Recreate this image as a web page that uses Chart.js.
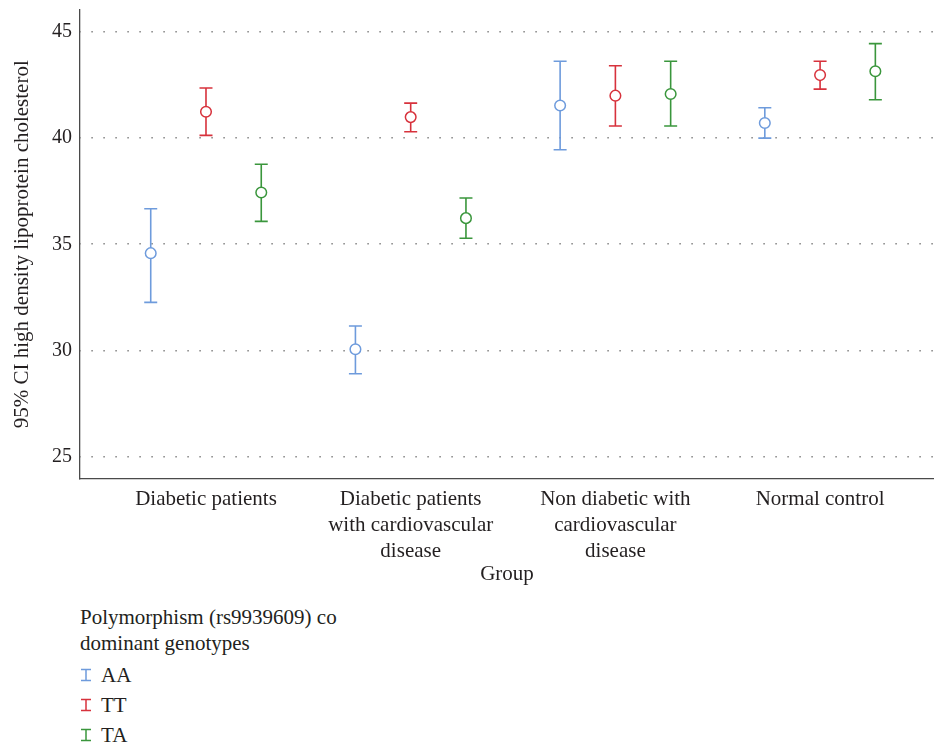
<!DOCTYPE html>
<html>
<head>
<meta charset="utf-8">
<script src="https://cdn.jsdelivr.net/npm/chart.js@4/dist/chart.umd.min.js"></script>
<style>
  html, body { margin: 0; padding: 0; background: #fff; overflow: hidden; }
  #wrap { position: relative; width: 934px; height: 743px; overflow: hidden; }
  #plot { position: absolute; left: 0; top: 0; width: 934px; height: 600px; }
  #legend { position: absolute; left: 80px; top: 604px; font-family: "Liberation Serif", serif; font-size: 21px; color: #231f20; }
  #legend .ttl { line-height: 26px; }
  #legend .items { margin-top: 4px; }
  #legend .item { height: 30px; line-height: 30px; display: flex; align-items: center; }
  #legend svg { margin-right: 9px; }
</style>
</head>
<body>
<div id="wrap">
  <div id="plot"><canvas id="c"></canvas></div>
  <div id="legend"></div>
</div>
<script>
// Groups along the x axis (multi-line labels)
const groups = [
  ["Diabetic patients"],
  ["Diabetic patients", "with cardiovascular", "disease"],
  ["Non diabetic with", "cardiovascular", "disease"],
  ["Normal control"]
];
const yTicks = [25, 30, 35, 40, 45];

// Genotypes
const genotypes = ["AA", "TT", "TA"];
const genotypeColors = ["#6e9bdc", "#d7323c", "#3a963c"];

// Mean HDL cholesterol and 95% CI per group
const meanAA  = [34.58, 30.05, 41.54, 40.71];
const lowAA   = [32.26, 28.90, 39.45, 40.00];
const highAA  = [36.67, 31.15, 43.62, 41.43];

const meanTT  = [41.24, 40.99, 42.00, 42.97];
const lowTT   = [40.13, 40.30, 40.57, 42.31];
const highTT  = [42.36, 41.65, 43.41, 43.62];

const meanTA  = [37.44, 36.23, 42.08, 43.15];
const lowTA   = [36.08, 35.28, 40.57, 41.81];
const highTA  = [38.77, 37.18, 43.62, 44.45];

const means = [meanAA, meanTT, meanTA];
const lows  = [lowAA, lowTT, lowTA];
const highs = [highAA, highTT, highTA];

// horizontal dodge of each genotype within a group (in group units)
const dodge = [-0.27, 0, 0.27];

const FONT = "'Liberation Serif', serif";
const TEXT = "#231f20";

const datasets = genotypes.map((g, s) => ({
  label: g,
  data: means[s].map((m, i) => ({ x: i + 1 + dodge[s], y: m, lo: lows[s][i], hi: highs[s][i] })),
  borderColor: genotypeColors[s],
  backgroundColor: "#ffffff",
  pointRadius: 5.3,
  pointHoverRadius: 5.3,
  pointBorderWidth: 1.5,
  showLine: false
}));

// draws the CI whiskers with caps beneath the mean markers
const errorBars = {
  id: "errorBars",
  beforeDatasetsDraw(chart) {
    const { ctx, scales: { x, y } } = chart;
    ctx.save();
    ctx.lineWidth = 1.6;
    chart.data.datasets.forEach((ds) => {
      ctx.strokeStyle = ds.borderColor;
      ds.data.forEach((p) => {
        const px = x.getPixelForValue(p.x);
        const pl = y.getPixelForValue(p.lo);
        const ph = y.getPixelForValue(p.hi);
        const cap = 6.5;
        ctx.beginPath();
        ctx.moveTo(px, pl); ctx.lineTo(px, ph);
        ctx.moveTo(px - cap, pl); ctx.lineTo(px + cap, pl);
        ctx.moveTo(px - cap, ph); ctx.lineTo(px + cap, ph);
        ctx.stroke();
      });
    });
    ctx.restore();
  }
};

new Chart(document.getElementById("c"), {
  type: "scatter",
  data: { datasets },
  plugins: [errorBars],
  options: {
    responsive: true,
    maintainAspectRatio: false,
    animation: false,
    layout: { autoPadding: false, padding: { top: 9.5, right: 0, left: 0, bottom: 0 } },
    plugins: { legend: { display: false }, tooltip: { enabled: false } },
    scales: {
      x: {
        type: "linear",
        min: 0.3845,
        max: 4.5565,
        afterBuildTicks: (s) => { s.ticks = groups.map((_, i) => ({ value: i + 1 })); },
        afterFit: (s) => { s.height = 121; s.paddingLeft = 0; s.paddingRight = 0; },
        ticks: {
          autoSkip: false,
          maxRotation: 0,
          padding: 7,
          color: TEXT,
          font: { family: FONT, size: 21, lineHeight: 1.24 },
          callback: (v) => groups[Math.round(v) - 1]
        },
        grid: { display: false, drawTicks: false },
        border: { display: true, color: "#4a4a4a", width: 1.3 },
        title: {
          display: true,
          text: "Group",
          color: TEXT,
          font: { family: FONT, size: 21 },
          padding: { top: 0, bottom: 13.4 }
        }
      },
      y: {
        min: 23.94,
        max: 46.06,
        afterBuildTicks: (s) => { s.ticks = yTicks.map((v) => ({ value: v })); },
        afterFit: (s) => { s.width = 80; s.paddingTop = 0; s.paddingBottom = 0; },
        ticks: {
          padding: 8,
          color: TEXT,
          font: { family: FONT, size: 20 }
        },
        grid: { color: "#8c8c8c", lineWidth: 1.6, drawTicks: false },
        border: { display: true, color: "#4a4a4a", width: 1.3, dash: [1.6, 10.4], dashOffset: -11 },
        title: {
          display: true,
          text: "95% CI high density lipoprotein cholesterol",
          color: TEXT,
          font: { family: FONT, size: 21 },
          padding: { top: 9.4, bottom: 0 }
        }
      }
    }
  }
});

// legend below the plot, built from the genotype series
const legend = document.getElementById("legend");
legend.innerHTML =
  '<div class="ttl">Polymorphism (rs9939609) co</div><div class="ttl">dominant genotypes</div>' +
  '<div class="items">' +
  genotypes.map((g, s) =>
    '<div class="item"><svg width="12" height="14" viewBox="0 0 12 14">' +
    '<path d="M1 1.5H11M6 1.5V12.5M1 12.5H11" stroke="' + genotypeColors[s] + '" stroke-width="1.5" fill="none"/>' +
    '</svg>' + g + '</div>'
  ).join("") +
  '</div>';
</script>
</body>
</html>
